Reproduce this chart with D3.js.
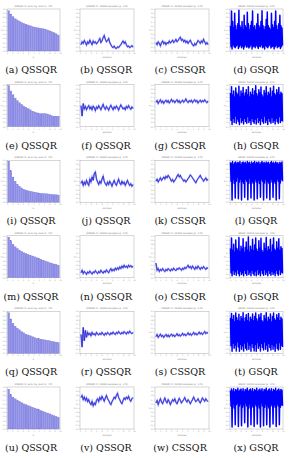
<!DOCTYPE html>
<html><head><meta charset="utf-8">
<script src="https://cdn.jsdelivr.net/npm/d3@7"></script>
<style>body{margin:0;background:#fff}svg{display:block}</style></head>
<body>
<svg id="c" width="289" height="458"></svg>
<script>
const letters = "abcdefghijklmnopqrstuvwx".split("");
const methods = ["QSSQR","QSSQR","CSSQR","GSQR"];
const titles = ["QSSQR f1: error by rank (k=24)","QSSQR f1: 10000 samples (p=0.5)","CSSQR f1: 10000 samples (p=0.5)","GSQR: 10000 samples (p=0.5)"];
const yTicks = [0,0.1,0.2,0.3,0.4,0.5,0.6,0.7,0.8,0.9,1];
const xTickLabels = ["0","1","2","3","4","5","6","7","8","9","10"];

// column 1: QSSQR ranked bars
const qBars = [
 [0.96,0.88,0.82,0.77,0.74,0.71,0.68,0.66,0.64,0.62,0.60,0.58,0.57,0.56,0.55,0.54,0.53,0.52,0.50,0.48,0.46,0.44,0.41,0.38],
 [0.98,0.85,0.76,0.68,0.62,0.57,0.53,0.49,0.46,0.43,0.40,0.37,0.35,0.33,0.31,0.31,0.31,0.31,0.30,0.28,0.26,0.25,0.25,0.25],
 [0.98,0.75,0.60,0.50,0.43,0.38,0.34,0.31,0.29,0.27,0.26,0.25,0.24,0.23,0.22,0.21,0.21,0.20,0.20,0.19,0.19,0.18,0.18,0.17],
 [0.97,0.88,0.80,0.74,0.70,0.66,0.63,0.60,0.58,0.56,0.54,0.52,0.50,0.48,0.46,0.44,0.42,0.40,0.38,0.36,0.35,0.33,0.32,0.30],
 [0.97,0.82,0.72,0.65,0.60,0.56,0.52,0.49,0.46,0.44,0.42,0.40,0.38,0.36,0.35,0.34,0.33,0.32,0.31,0.30,0.29,0.28,0.27,0.26],
 [0.95,0.82,0.76,0.72,0.69,0.66,0.63,0.60,0.58,0.56,0.54,0.52,0.50,0.48,0.46,0.44,0.42,0.40,0.38,0.36,0.34,0.32,0.30,0.28]
];
// column 2: QSSQR traces
const qLines = [
 [0.15,0.22,0.18,0.25,0.20,0.14,0.22,0.18,0.26,0.20,0.15,0.24,0.19,0.22,0.17,0.20,0.25,0.30,0.20,0.24,0.32,0.37,0.28,0.22,0.25,0.30,0.20,0.15,0.10,0.08,0.12,0.07,0.06,0.10,0.08,0.12,0.15,0.20,0.24,0.18,0.22,0.15,0.10,0.12,0.08,0.10,0.13,0.09],
 [0.50,0.25,0.55,0.42,0.48,0.40,0.46,0.50,0.42,0.47,0.40,0.49,0.45,0.38,0.47,0.43,0.50,0.45,0.40,0.47,0.53,0.45,0.41,0.48,0.44,0.39,0.46,0.51,0.45,0.40,0.47,0.43,0.49,0.45,0.39,0.46,0.52,0.47,0.42,0.45,0.40,0.48,0.44,0.50,0.45,0.41,0.47,0.43],
 [0.45,0.50,0.40,0.48,0.42,0.52,0.45,0.40,0.55,0.48,0.60,0.52,0.68,0.72,0.55,0.48,0.42,0.50,0.45,0.55,0.62,0.50,0.44,0.40,0.48,0.42,0.50,0.45,0.38,0.46,0.52,0.44,0.40,0.48,0.55,0.46,0.42,0.50,0.44,0.48,0.40,0.46,0.52,0.45,0.40,0.44,0.38,0.42],
 [0.12,0.18,0.10,0.15,0.12,0.08,0.14,0.11,0.16,0.12,0.09,0.14,0.12,0.17,0.13,0.10,0.15,0.12,0.18,0.14,0.11,0.16,0.13,0.19,0.15,0.12,0.18,0.22,0.16,0.20,0.17,0.23,0.19,0.24,0.20,0.26,0.22,0.28,0.24,0.30,0.25,0.28,0.24,0.30,0.26,0.29,0.25,0.28],
 [0.45,0.15,0.62,0.30,0.55,0.38,0.50,0.44,0.48,0.42,0.50,0.45,0.47,0.43,0.50,0.46,0.44,0.48,0.45,0.50,0.46,0.43,0.48,0.45,0.50,0.47,0.44,0.49,0.46,0.51,0.47,0.45,0.50,0.47,0.52,0.48,0.46,0.50,0.47,0.52,0.49,0.46,0.51,0.48,0.53,0.49,0.47,0.50],
 [0.75,0.80,0.70,0.76,0.68,0.74,0.65,0.70,0.62,0.58,0.66,0.55,0.62,0.58,0.68,0.72,0.65,0.75,0.70,0.78,0.72,0.66,0.74,0.80,0.72,0.68,0.62,0.58,0.65,0.70,0.76,0.72,0.80,0.85,0.75,0.70,0.64,0.60,0.68,0.74,0.70,0.76,0.72,0.78,0.70,0.66,0.72,0.75]
];
// column 3: CSSQR traces
const cLines = [
 [0.20,0.15,0.22,0.18,0.12,0.20,0.24,0.17,0.21,0.15,0.20,0.18,0.24,0.19,0.22,0.26,0.20,0.23,0.28,0.22,0.25,0.30,0.33,0.25,0.28,0.22,0.26,0.20,0.24,0.18,0.22,0.26,0.20,0.15,0.12,0.18,0.14,0.20,0.25,0.22,0.18,0.24,0.20,0.28,0.22,0.16,0.20,0.15],
 [0.58,0.62,0.55,0.60,0.64,0.57,0.61,0.55,0.60,0.63,0.58,0.62,0.56,0.60,0.65,0.59,0.62,0.57,0.61,0.64,0.58,0.62,0.56,0.60,0.63,0.58,0.61,0.66,0.60,0.57,0.62,0.59,0.63,0.57,0.61,0.64,0.59,0.62,0.56,0.60,0.63,0.58,0.62,0.59,0.64,0.60,0.57,0.61],
 [0.50,0.55,0.48,0.53,0.58,0.52,0.56,0.60,0.55,0.62,0.58,0.64,0.60,0.55,0.50,0.54,0.48,0.52,0.56,0.62,0.66,0.60,0.64,0.58,0.55,0.50,0.53,0.48,0.52,0.56,0.60,0.65,0.62,0.58,0.54,0.50,0.46,0.52,0.56,0.60,0.64,0.58,0.55,0.50,0.54,0.58,0.52,0.55],
 [0.35,0.18,0.22,0.15,0.20,0.17,0.22,0.18,0.15,0.20,0.17,0.22,0.19,0.16,0.21,0.18,0.23,0.19,0.17,0.22,0.20,0.24,0.21,0.18,0.23,0.20,0.25,0.22,0.26,0.30,0.24,0.27,0.22,0.28,0.24,0.20,0.26,0.22,0.28,0.24,0.20,0.25,0.22,0.27,0.23,0.20,0.24,0.22],
 [0.40,0.45,0.38,0.42,0.46,0.40,0.43,0.38,0.42,0.45,0.40,0.44,0.39,0.43,0.46,0.41,0.44,0.40,0.43,0.47,0.42,0.45,0.41,0.44,0.48,0.43,0.46,0.42,0.45,0.49,0.44,0.47,0.43,0.46,0.50,0.45,0.48,0.44,0.47,0.51,0.46,0.49,0.45,0.48,0.52,0.47,0.50,0.48],
 [0.62,0.68,0.58,0.66,0.72,0.64,0.60,0.68,0.74,0.66,0.62,0.70,0.65,0.58,0.64,0.70,0.66,0.72,0.64,0.60,0.67,0.73,0.68,0.62,0.66,0.70,0.75,0.68,0.64,0.70,0.66,0.60,0.65,0.70,0.76,0.70,0.65,0.68,0.72,0.66,0.62,0.68,0.74,0.70,0.66,0.72,0.68,0.65]
];
// column 4: GSQR dense traces as upper / lower swings
const gHi = [
 [0.60,0.95,0.70,0.55,0.90,0.60,0.50,0.65,0.97,0.60,0.55,0.70,0.50,0.85,0.60,0.55,0.92,0.65,0.50,0.60,0.70,0.95,0.55,0.60,0.50,0.65,0.88,0.60,0.55,0.70,0.96,0.60,0.50,0.58,0.75,0.93,0.60,0.55,0.50,0.90,0.62,0.55,0.70,0.95,0.60,0.50,0.65,0.85,0.60,0.55],
 [0.80,0.95,0.75,0.85,0.70,0.92,0.80,0.75,0.96,0.70,0.85,0.78,0.93,0.72,0.80,0.88,0.75,0.95,0.70,0.82,0.76,0.90,0.74,0.85,0.97,0.78,0.72,0.88,0.80,0.94,0.75,0.70,0.86,0.79,0.95,0.73,0.82,0.77,0.92,0.70,0.84,0.96,0.78,0.74,0.88,0.80,0.93,0.75,0.82,0.78],
 [0.95,0.92,0.97,0.90,0.94,0.96,0.91,0.95,0.93,0.97,0.90,0.94,0.96,0.92,0.95,0.91,0.97,0.93,0.95,0.90,0.96,0.92,0.94,0.97,0.91,0.95,0.93,0.96,0.90,0.94,0.97,0.92,0.95,0.91,0.96,0.93,0.95,0.90,0.94,0.97,0.92,0.95,0.91,0.96,0.93,0.94,0.90,0.95,0.92,0.96],
 [0.70,0.95,0.65,0.80,0.60,0.90,0.70,0.65,0.96,0.62,0.75,0.68,0.93,0.60,0.72,0.85,0.65,0.97,0.60,0.75,0.66,0.92,0.64,0.78,0.95,0.68,0.62,0.88,0.70,0.94,0.65,0.60,0.82,0.69,0.96,0.63,0.74,0.67,0.92,0.60,0.78,0.95,0.68,0.64,0.86,0.70,0.93,0.65,0.74,0.70],
 [0.85,0.95,0.80,0.90,0.75,0.96,0.85,0.78,0.93,0.76,0.88,0.82,0.97,0.75,0.84,0.92,0.78,0.95,0.74,0.86,0.80,0.94,0.77,0.88,0.96,0.82,0.76,0.92,0.84,0.95,0.78,0.74,0.90,0.82,0.97,0.76,0.86,0.80,0.94,0.74,0.88,0.96,0.82,0.78,0.92,0.84,0.95,0.78,0.86,0.82],
 [0.92,0.95,0.90,0.96,0.88,0.94,0.91,0.97,0.89,0.93,0.95,0.90,0.96,0.88,0.94,0.92,0.97,0.89,0.93,0.95,0.90,0.96,0.88,0.94,0.91,0.97,0.89,0.93,0.95,0.90,0.96,0.88,0.94,0.92,0.97,0.89,0.93,0.95,0.90,0.96,0.88,0.94,0.91,0.97,0.89,0.93,0.95,0.90,0.94,0.92]
];
const gLo = [
 [0.10,0.05,0.15,0.10,0.08,0.12,0.15,0.06,0.10,0.14,0.08,0.12,0.05,0.10,0.15,0.09,0.12,0.07,0.10,0.15,0.05,0.10,0.12,0.08,0.14,0.10,0.06,0.12,0.10,0.15,0.08,0.10,0.05,0.13,0.10,0.08,0.12,0.15,0.07,0.10,0.12,0.05,0.10,0.14,0.08,0.10,0.12,0.06,0.10,0.13],
 [0.15,0.05,0.20,0.10,0.25,0.08,0.18,0.12,0.05,0.22,0.10,0.15,0.06,0.20,0.12,0.08,0.24,0.10,0.15,0.05,0.20,0.12,0.08,0.18,0.06,0.22,0.10,0.15,0.05,0.20,0.12,0.08,0.25,0.10,0.16,0.05,0.20,0.12,0.08,0.22,0.10,0.15,0.06,0.20,0.12,0.08,0.24,0.10,0.15,0.12],
 [0.50,0.05,0.55,0.45,0.10,0.50,0.60,0.08,0.48,0.55,0.05,0.50,0.45,0.12,0.55,0.50,0.06,0.45,0.58,0.10,0.50,0.45,0.05,0.55,0.48,0.08,0.52,0.45,0.12,0.55,0.50,0.05,0.46,0.55,0.10,0.50,0.45,0.06,0.55,0.48,0.12,0.50,0.45,0.05,0.55,0.50,0.08,0.46,0.55,0.50],
 [0.12,0.05,0.18,0.08,0.15,0.06,0.20,0.10,0.05,0.16,0.08,0.12,0.05,0.18,0.10,0.06,0.20,0.08,0.14,0.05,0.18,0.10,0.06,0.16,0.05,0.20,0.08,0.12,0.05,0.18,0.10,0.06,0.20,0.08,0.14,0.05,0.18,0.10,0.06,0.16,0.08,0.12,0.05,0.18,0.10,0.06,0.20,0.08,0.14,0.10],
 [0.18,0.05,0.25,0.12,0.20,0.06,0.28,0.15,0.05,0.22,0.10,0.18,0.06,0.25,0.12,0.08,0.28,0.10,0.20,0.05,0.24,0.14,0.06,0.22,0.05,0.26,0.12,0.18,0.06,0.24,0.14,0.08,0.28,0.10,0.20,0.05,0.24,0.14,0.08,0.22,0.10,0.18,0.05,0.25,0.12,0.08,0.26,0.10,0.20,0.15],
 [0.55,0.05,0.60,0.50,0.10,0.58,0.62,0.06,0.55,0.60,0.08,0.52,0.58,0.15,0.62,0.55,0.05,0.50,0.60,0.10,0.56,0.52,0.06,0.60,0.55,0.12,0.58,0.50,0.05,0.62,0.55,0.08,0.52,0.60,0.10,0.56,0.50,0.05,0.60,0.55,0.12,0.58,0.52,0.06,0.60,0.55,0.10,0.52,0.58,0.55]
];

const svg = d3.select("#c");
const cols = [{x0:7,x1:60,cx:31},{x0:80,x1:134,cx:106},{x0:155,x1:209,cx:180},{x0:230,x1:283,cx:256}];
const rowStep = 75.6;

function frame(g, c, top, bot, title, xlab){
  const y = d3.scaleLinear([0,1],[bot,top]);
  g.append("rect").attr("x",c.x0).attr("y",top).attr("width",c.x1-c.x0).attr("height",bot-top)
    .attr("fill","none").attr("stroke","#9a9a9a").attr("stroke-width",0.4);
  const ya = d3.axisLeft(y).tickValues(yTicks).tickSize(1).tickFormat(d3.format(".1f"));
  const ag = g.append("g").attr("transform",`translate(${c.x0},0)`).call(ya);
  const xs = d3.scaleLinear([0,10],[c.x0,c.x1]);
  const xa = d3.axisBottom(xs).ticks(10).tickSize(1).tickFormat((d,i)=>xTickLabels[i]);
  const bg = g.append("g").attr("transform",`translate(0,${bot})`).call(xa);
  [ag,bg].forEach(a=>{
    a.select(".domain").remove();
    a.selectAll("line").attr("stroke","#999").attr("stroke-width",0.3);
    a.selectAll("text").attr("font-size",1.8).attr("fill","#888").attr("font-family","DejaVu Sans");
  });
  ag.selectAll("text").attr("x",-1.5);
  bg.selectAll("text").attr("y",1.8);
  g.append("text").attr("x",(c.x0+c.x1)/2).attr("y",top-2).attr("text-anchor","middle")
    .attr("font-size",2.4).attr("fill","#777").attr("font-family","DejaVu Sans").text(title);
  g.append("text").attr("x",(c.x0+c.x1)/2).attr("y",bot+6.5).attr("text-anchor","middle")
    .attr("font-size",2.2).attr("fill","#888").attr("font-family","DejaVu Sans").text(xlab);
  g.append("text").attr("transform",`translate(${c.x0-5},${(top+bot)/2}) rotate(-90)`).attr("text-anchor","middle")
    .attr("font-size",2.2).attr("fill","#888").attr("font-family","DejaVu Sans").text("y");
  return y;
}

for(let r=0;r<6;r++){
  const off = r*rowStep;
  const top = 9+off, bot = 51+off;
  for(let k=0;k<4;k++){
    const c = cols[k];
    const g = svg.append("g");
    const y = frame(g,c,top,bot,titles[k], k==0?"k":"samples");
    if(k===0){
      const vals = qBars[r];
      const x = d3.scaleBand(d3.range(vals.length),[c.x0+0.5,c.x1-0.5]).padding(0.12);
      g.selectAll(".b").data(vals).join("rect")
        .attr("x",(d,i)=>x(i)).attr("width",x.bandwidth())
        .attr("y",d=>y(d)).attr("height",d=>y(0)-y(d))
        .attr("fill","#8d8de6").attr("stroke","#6a6ad8").attr("stroke-width",0.2);
    } else if(k<3){
      const vals = k===1?qLines[r]:cLines[r];
      const x = d3.scaleLinear([0,vals.length-1],[c.x0+1,c.x1-1]);
      const line = d3.line().x((d,i)=>x(i)).y(d=>y(d));
      g.append("path").attr("d",line(vals)).attr("fill","none")
        .attr("stroke","#3a3aff").attr("stroke-width",1.6).attr("stroke-opacity",0.6);
      g.append("path").attr("d",line(vals)).attr("fill","none")
        .attr("stroke","#1010b0").attr("stroke-width",0.6);
    } else {
      const hi = gHi[r], lo = gLo[r];
      const pts = [];
      hi.forEach((h,i)=>{pts.push(h); pts.push(lo[i]);});
      const x = d3.scaleLinear([0,pts.length-1],[c.x0+0.5,c.x1-0.5]);
      const line = d3.line().x((d,i)=>x(i)).y(d=>y(d));
      g.append("path").attr("d",line(pts)).attr("fill","none")
        .attr("stroke","#0000ff").attr("stroke-width",1.5).attr("stroke-linejoin","round");
    }
    svg.append("text").attr("x",c.cx).attr("y",73+off).attr("text-anchor","middle")
      .attr("font-family","DejaVu Serif").attr("font-size",9.5).attr("fill","#111")
      .text(`(${letters[r*4+k]}) ${methods[k]}`);
  }
}
</script>
</body></html>
